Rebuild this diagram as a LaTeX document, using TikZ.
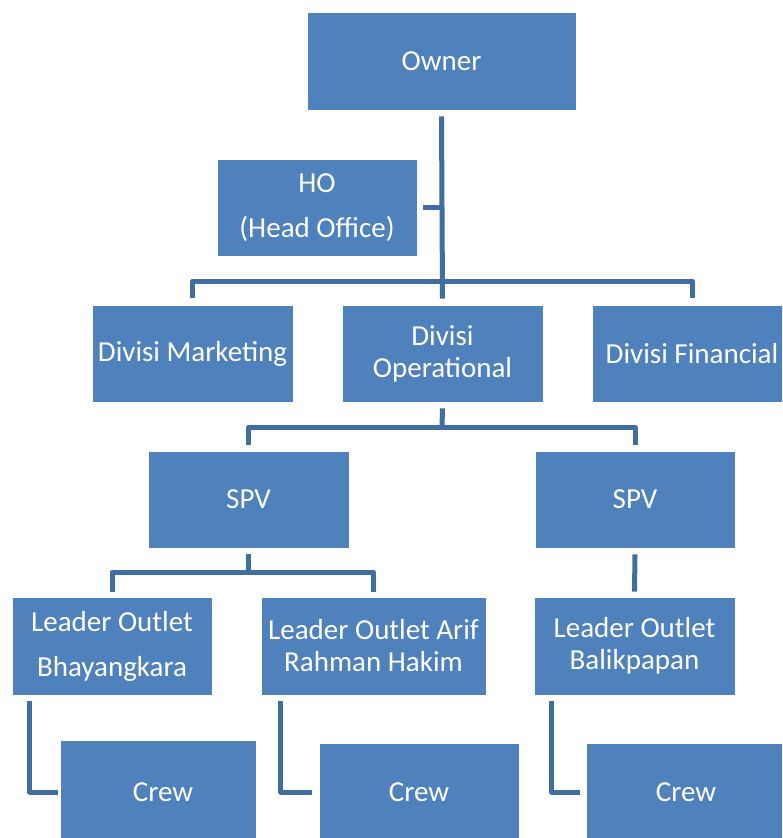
\documentclass[tikz,border=0pt]{standalone}
\usepackage{fontspec}
\setmainfont{Carlito}
\definecolor{boxblue}{RGB}{79,129,189}
\definecolor{linkblue}{RGB}{65,110,160}
\begin{document}
\begin{tikzpicture}[x=1pt,y=-1pt,
  box/.style={fill=boxblue, draw=white, line width=0.6pt, inner sep=0pt, text=white, align=center,
    font=\fontsize{29}{32}\selectfont},
  conn/.style={draw=linkblue, line width=5pt, line join=round}]
\clip (0,0) rectangle (782,838);
\fill[white] (0,0) rectangle (782,838);
% boxes
\node[box, minimum width=269pt, minimum height=98pt] (owner) at (441.5,61) {Owner};
\node[box, minimum width=200pt, minimum height=97pt] (ho) at (317,207.5) {HO\\[13pt](Head Office)};
\node[box, minimum width=201pt, minimum height=97pt] (dm) at (192.5,353.5) {Divisi Marketing};
\node[box, minimum width=201pt, minimum height=97pt] (dop) at (442.5,353.5) {Divisi\\Operational};
\node[box, minimum width=200pt, minimum height=97pt] (df) at (692,353.5) {Divisi Financial};
\node[box, minimum width=201pt, minimum height=97pt] (spv1) at (248.5,499.5) {SPV};
\node[box, minimum width=200pt, minimum height=97pt] (spv2) at (635,499.5) {SPV};
\node[box, minimum width=200pt, minimum height=98pt] (l1) at (112,646) {Leader Outlet\\[13pt]Bhayangkara};
\node[box, minimum width=225pt, minimum height=98pt] (l2) at (373.5,646) {Leader Outlet Arif\\Rahman Hakim};
\node[box, minimum width=201pt, minimum height=98pt] (l3) at (634.5,646) {Leader Outlet\\Balikpapan};
\node[box, minimum width=196pt, minimum height=104pt] (c1) at (158,792) {\hspace{10pt}Crew};
\node[box, minimum width=200pt, minimum height=98pt] (c2) at (419,792) {Crew};
\node[box, minimum width=200pt, minimum height=98pt] (c3) at (686,792) {Crew};
% junction coordinates
\coordinate (b1) at (442,281);
\coordinate (b2) at (442,427);
\coordinate (b3) at (248.5,572);
% connectors
\draw[conn] ([yshift=-6pt]owner.south) -- ([yshift=6pt]dop.north);
\draw[conn] ([xshift=6pt]ho.east) -- (ho.east -| owner.south);
\draw[conn] ([yshift=7pt]dm.north) |- (b1) -| ([yshift=7pt]df.north);
\draw[conn] ([yshift=-6pt]dop.south) -- (b2);
\draw[conn] ([yshift=6pt]spv1.north) |- (b2) -| ([yshift=6pt]spv2.north);
\draw[conn] ([yshift=-6pt]spv1.south) -- (b3);
\draw[conn] ([yshift=5pt]l1.north) |- (b3) -| ([yshift=5pt]l2.north);
\draw[conn] ([yshift=-6pt]spv2.south) -- ([yshift=5pt]l3.north);
\draw[conn] ([xshift=18pt,yshift=-6pt]l1.south west) |- ([xshift=-2pt]c1.west);
\draw[conn] ([xshift=20pt,yshift=-6pt]l2.south west) |- ([xshift=-7pt]c2.west);
\draw[conn] ([xshift=18pt,yshift=-6pt]l3.south west) |- ([xshift=-6pt]c3.west);
\end{tikzpicture}
\end{document}
